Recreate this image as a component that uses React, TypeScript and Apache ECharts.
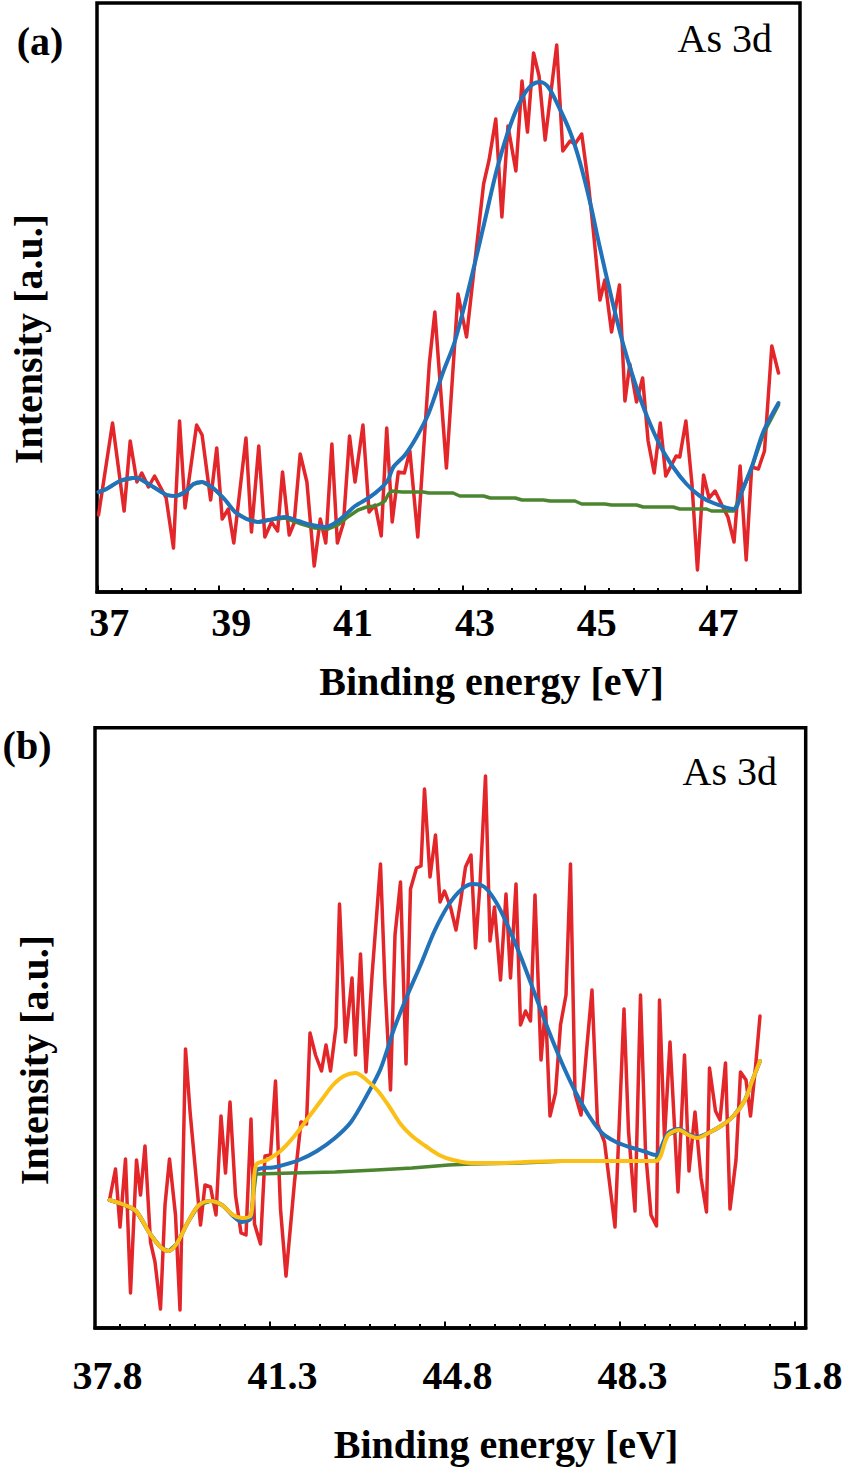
import React, { useEffect, useRef } from 'react';
import * as echarts from 'echarts';

// ---------- Panel (a): As 3d ----------
const redA: [number, number][] = [
  [36.82, 77], [37.05, 169], [37.24, 81], [37.34, 151], [37.45, 110], [37.53, 119], [37.64, 105], [37.74, 116],
  [37.93, 94], [38.05, 44], [38.15, 171], [38.24, 84], [38.43, 167], [38.52, 157], [38.66, 92], [38.76, 144],
  [38.85, 73], [38.95, 83], [39.04, 49], [39.24, 154], [39.33, 60], [39.45, 146], [39.55, 55], [39.66, 70],
  [39.76, 61], [39.84, 120], [39.95, 57], [40.03, 69], [40.13, 138], [40.24, 110], [40.36, 26], [40.46, 73],
  [40.55, 49], [40.65, 148], [40.74, 49], [40.84, 69], [40.94, 156], [41.03, 110], [41.16, 167], [41.26, 80],
  [41.36, 87], [41.46, 56], [41.55, 164], [41.64, 70], [41.74, 120], [41.84, 119], [41.93, 141], [42.06, 55],
  [42.25, 229], [42.34, 280], [42.53, 124], [42.72, 298], [42.86, 255], [43.14, 408], [43.23, 432], [43.34, 473],
  [43.44, 375], [43.54, 466], [43.67, 421], [43.77, 511], [43.86, 460], [43.96, 539], [44.05, 516], [44.15, 452],
  [44.34, 547], [44.44, 441], [44.56, 451], [44.64, 448], [44.75, 458], [44.86, 408], [44.94, 362], [45.05, 292],
  [45.13, 312], [45.24, 260], [45.37, 307], [45.46, 191], [45.54, 228], [45.65, 190], [45.75, 214], [45.84, 151],
  [45.94, 119], [46.04, 169], [46.13, 116], [46.30, 136], [46.36, 135], [46.46, 171], [46.56, 108], [46.65, 22],
  [46.75, 117], [46.84, 94], [46.94, 101], [47.05, 87], [47.15, 75], [47.25, 50], [47.35, 126], [47.45, 32],
  [47.54, 125], [47.65, 123], [47.75, 141], [47.87, 246], [47.98, 219],
];

const fitA: [number, number][] = [
  [36.82, 100], [36.95, 103], [37.17, 111], [37.39, 114], [37.50, 113], [37.72, 105], [37.94, 97], [38.08, 96],
  [38.24, 100], [38.38, 108], [38.52, 110], [38.70, 104], [38.90, 92], [39.06, 80], [39.25, 73], [39.44, 70],
  [39.61, 72], [39.88, 75], [40.10, 71], [40.32, 67], [40.54, 65], [40.70, 69], [40.87, 77], [41.03, 86],
  [41.25, 94], [41.44, 103], [41.57, 112], [41.66, 125], [41.85, 137], [42.04, 155], [42.24, 179], [42.47, 219],
  [42.67, 251], [42.91, 307], [43.14, 366], [43.36, 423], [43.58, 467], [43.77, 494], [43.93, 507], [44.07, 510],
  [44.20, 505], [44.36, 487], [44.56, 460], [44.72, 430], [44.89, 389], [45.05, 344], [45.24, 294], [45.43, 248],
  [45.63, 208], [45.82, 176], [46.04, 146], [46.25, 125], [46.47, 108], [46.69, 96], [46.91, 89], [47.25, 83],
  [47.38, 101], [47.54, 125], [47.73, 160], [47.98, 189],
];

const backgroundA: [number, number][] = [
  [36.82, 100], [36.95, 103], [37.17, 111], [37.39, 114], [37.50, 113], [37.72, 105], [37.94, 97], [38.08, 96],
  [38.24, 100], [38.38, 108], [38.52, 110], [38.70, 104], [38.90, 92], [39.06, 80], [39.25, 73], [39.44, 70],
  [39.61, 72], [39.88, 74], [40.15, 68], [40.37, 64], [40.59, 63], [40.75, 67], [40.91, 75], [41.08, 82],
  [41.22, 85], [41.36, 86], [41.44, 88], [41.52, 91], [41.58, 98], [41.63, 101], [41.80, 100], [42.15, 100],
  [42.24, 99], [42.64, 99], [42.75, 96], [43.14, 96], [43.25, 94], [43.66, 94], [43.77, 92], [44.12, 92],
  [44.23, 91], [44.64, 91], [44.75, 88], [45.13, 88], [45.24, 87], [45.65, 87], [45.76, 85], [46.25, 85],
  [46.36, 83], [46.80, 83], [46.88, 81], [47.25, 81], [47.38, 100], [47.54, 124], [47.73, 158], [47.98, 187],
];

const labelsA = ['37', '39', '41', '43', '45', '47'];
const majorTicksA = [36.8, 38.8, 40.8, 42.8, 44.8, 46.8];
const minorTicksA = [37.2, 37.6, 38.0, 38.4, 39.2, 39.6, 40.0, 40.4, 41.2, 41.6, 42.0, 42.4, 43.2, 43.6, 44.0, 44.4,
  45.2, 45.6, 46.0, 46.4, 47.2, 47.6, 48.0];

// ---------- Panel (b): As 3d ----------
const redB: [number, number][] = [
  [37.83, 128], [37.95, 159], [38.04, 101], [38.15, 169], [38.25, 35], [38.37, 168], [38.45, 133], [38.54, 182],
  [38.65, 86], [38.74, 66], [38.85, 19], [38.94, 123], [39.03, 169], [39.15, 113], [39.24, 18], [39.35, 279],
  [39.44, 217], [39.55, 157], [39.65, 103], [39.74, 143], [39.85, 141], [39.96, 113], [40.06, 212], [40.15, 155],
  [40.24, 226], [40.35, 133], [40.46, 95], [40.56, 93], [40.66, 209], [40.73, 104], [40.85, 84], [40.94, 172],
  [41.05, 173], [41.15, 247], [41.25, 119], [41.36, 52], [41.53, 146], [41.66, 206], [41.77, 204], [41.84, 295],
  [41.95, 273], [42.07, 257], [42.16, 283], [42.25, 257], [42.36, 301], [42.43, 424], [42.55, 286], [42.68, 350],
  [42.75, 273], [42.85, 374], [42.96, 256], [43.08, 352], [43.25, 464], [43.34, 343], [43.45, 238], [43.54, 393],
  [43.65, 446], [43.76, 264], [43.85, 439], [43.97, 460], [44.06, 462], [44.13, 539], [44.24, 451], [44.35, 493],
  [44.44, 426], [44.53, 437], [44.65, 421], [44.76, 398], [44.85, 426], [44.95, 461], [45.06, 473], [45.15, 380],
  [45.24, 444], [45.35, 552], [45.44, 387], [45.53, 421], [45.65, 348], [45.76, 434], [45.85, 350], [45.96, 444],
  [46.05, 303], [46.15, 317], [46.25, 307], [46.34, 433], [46.46, 268], [46.55, 321], [46.64, 212], [46.75, 235],
  [46.85, 303], [46.96, 333], [47.05, 464], [47.14, 234], [47.26, 213], [47.37, 277], [47.48, 338], [47.59, 204],
  [47.73, 186], [47.94, 101], [48.12, 319], [48.21, 197], [48.34, 117], [48.45, 333], [48.55, 177], [48.66, 113],
  [48.77, 102], [48.83, 328], [48.93, 190], [49.04, 286], [49.20, 136], [49.33, 273], [49.42, 157], [49.54, 216],
  [49.66, 150], [49.77, 116], [49.83, 260], [49.95, 217], [50.04, 208], [50.15, 265], [50.24, 119], [50.36, 168],
  [50.45, 256], [50.56, 248], [50.65, 212], [50.75, 261], [50.84, 312],
];

const fitB1: [number, number][] = [
  [37.83, 128], [38.08, 124], [38.36, 117], [38.63, 95], [38.85, 81], [39.01, 77], [39.17, 84], [39.40, 106],
  [39.62, 123], [39.85, 127], [40.08, 123], [40.30, 112], [40.48, 106], [40.66, 110], [40.76, 157], [41.16, 161],
  [41.62, 168], [41.98, 177], [42.34, 190], [42.66, 206], [42.97, 232], [43.25, 259], [43.52, 299], [43.79, 333],
  [44.06, 364], [44.33, 397], [44.61, 423], [44.88, 439], [45.10, 444], [45.33, 441], [45.56, 426], [45.78, 404],
  [46.05, 372], [46.33, 335], [46.60, 299], [46.87, 266], [47.14, 237], [47.41, 213], [47.68, 195], [47.96, 186],
  [48.23, 181], [48.50, 177], [48.75, 173], [49.00, 195], [49.22, 199], [49.41, 194], [49.59, 191], [49.81, 195],
  [50.09, 203], [50.31, 212], [50.54, 228], [50.69, 248], [50.84, 267],
];

const fitB2: [number, number][] = [
  [37.83, 128], [38.08, 124], [38.36, 117], [38.63, 95], [38.85, 81], [39.01, 77], [39.17, 84], [39.40, 106],
  [39.62, 123], [39.85, 127], [40.08, 123], [40.30, 113], [40.48, 110], [40.66, 113], [40.76, 163], [40.98, 168],
  [41.25, 177], [41.53, 192], [41.80, 210], [42.07, 228], [42.30, 243], [42.52, 252], [42.75, 255], [42.97, 248],
  [43.20, 237], [43.43, 221], [43.65, 204], [43.88, 192], [44.15, 182], [44.42, 173], [44.70, 168], [45.06, 165],
  [45.69, 165], [46.14, 166], [46.96, 167], [47.50, 167], [48.75, 167], [49.00, 193], [49.22, 198], [49.41, 193],
  [49.59, 190], [49.81, 195], [50.09, 203], [50.31, 212], [50.54, 228], [50.69, 248], [50.84, 267],
];

const backgroundB: [number, number][] = [
  [37.83, 128], [38.08, 124], [38.36, 117], [38.63, 95], [38.85, 81], [39.01, 77], [39.17, 84], [39.40, 106],
  [39.62, 123], [39.85, 127], [40.08, 123], [40.30, 113], [40.48, 108], [40.66, 112], [40.76, 154], [41.50, 155],
  [42.34, 156], [43.16, 158], [43.88, 160], [44.61, 163], [45.06, 164], [46.05, 165], [46.96, 167], [48.75, 167],
  [49.00, 193], [49.22, 198], [49.41, 193], [49.59, 190], [49.81, 195], [50.09, 203], [50.31, 212], [50.54, 228],
  [50.69, 248], [50.84, 267],
];

const labelsB = ['37.8', '41.3', '44.8', '48.3', '51.8'];
const majorTicksB = [37.54, 41.04, 44.54, 48.04, 51.54];
const minorTicksB = [38.04, 38.54, 39.04, 39.54, 40.04, 40.54, 41.54, 42.04, 42.54, 43.04, 43.54, 44.04, 45.04, 45.54,
  46.04, 46.54, 47.04, 47.54, 48.54, 49.04, 49.54, 50.04, 50.54, 51.04];

const RED = '#E3262A';
const BLUE = '#2272B9';
const GREEN = '#4B8530';
const YELLOW = '#FBBF16';
const SERIF = '"Liberation Serif", "Times New Roman", serif';

function nearestLabel(ticks: number[], labels: string[], v: number): string {
  let best = 0;
  for (let i = 1; i < ticks.length; i++) {
    if (Math.abs(ticks[i] - v) < Math.abs(ticks[best] - v)) best = i;
  }
  return labels[best];
}

function makeXAxes(gridIndex: number, min: number, max: number, majors: number[], minors: number[],
  labels: string[], margin: number, pad: number) {
  return [
    {
      type: 'value', gridIndex, min, max, position: 'bottom', offset: 0,
      axisLine: { show: true, onZero: false, lineStyle: { color: '#000', width: 3.5 } },
      axisTick: { show: true, inside: true, length: 6.5, customValues: majors, lineStyle: { color: '#000', width: 2 } },
      axisLabel: {
        show: true, customValues: majors, margin, color: '#000', fontFamily: SERIF, fontWeight: 'bold', fontSize: 40,
        padding: [0, 0, 0, pad], showMinLabel: true, showMaxLabel: true,
        formatter: (v: number) => nearestLabel(majors, labels, v),
      },
      splitLine: { show: false },
    },
    {
      type: 'value', gridIndex, min, max, position: 'bottom', offset: 0,
      axisLine: { show: false },
      axisTick: { show: true, inside: true, length: 4, customValues: minors, lineStyle: { color: '#000', width: 2 } },
      axisLabel: { show: false },
      splitLine: { show: false },
    },
  ];
}

function line(data: [number, number][], color: string, axis: number, z: number, smooth: number | boolean, width: number) {
  return {
    type: 'line', data, xAxisIndex: axis * 2, yAxisIndex: axis, symbol: 'none', showSymbol: false, smooth,
    silent: true, z, itemStyle: { color },
    lineStyle: { color, width, join: 'round', cap: 'round' },
  };
}

export default function App() {
  const ref = useRef<HTMLDivElement>(null);
  useEffect(() => {
    if (!ref.current) return;
    const chart = echarts.init(ref.current, undefined, { renderer: 'svg' });
    const gridBase = { show: true, borderColor: '#000', borderWidth: 3.5, backgroundColor: 'transparent', containLabel: false, outerBoundsMode: 'none' };
    const bold40 = `bold 40px ${SERIF}`;
    const reg40 = `40px ${SERIF}`;
    const txt = (text: string, x: number, y: number, font: string, align: string, rot = 0) => ({
      type: 'text', x, y, rotation: rot, silent: true,
      style: { text, font, fill: '#000', align, verticalAlign: 'middle' },
    });
    chart.setOption({
      animation: false,
      backgroundColor: '#fff',
      grid: [
        { ...gridBase, left: 97, top: 3, width: 703, height: 589 },
        { ...gridBase, left: 95, top: 727.7, width: 710.7, height: 600.3 },
      ],
      xAxis: [
        ...makeXAxes(0, 36.795, 48.333, majorTicksA, minorTicksA, labelsA, 10, 24),
        ...makeXAxes(1, 37.54, 51.754, majorTicksB, minorTicksB, labelsB, 27, 25),
      ],
      yAxis: [
        { type: 'value', gridIndex: 0, min: 0, max: 589, show: false, splitLine: { show: false } },
        { type: 'value', gridIndex: 1, min: 0, max: 600.3, show: false, splitLine: { show: false } },
      ],
      graphic: [
        txt('(a)', 40, 41, bold40, 'center'),
        txt('As 3d', 772, 38.5, reg40, 'right'),
        txt('Binding energy [eV]', 491.5, 681.5, bold40, 'center'),
        txt('Intensity [a.u.]', 28, 339, bold40, 'center', Math.PI / 2),
        txt('(b)', 27, 745, bold40, 'center'),
        txt('As 3d', 777, 771, reg40, 'right'),
        txt('Binding energy [eV]', 506, 1444, bold40, 'center'),
        txt('Intensity [a.u.]', 34, 1060, bold40, 'center', Math.PI / 2),
      ],
      series: [
        line(redA, RED, 0, 2, false, 3.5),
        line(backgroundA, GREEN, 0, 3, false, 3.5),
        line(fitA, BLUE, 0, 4, 0.3, 4),
        line(redB, RED, 1, 2, false, 3.5),
        line(backgroundB, GREEN, 1, 3, false, 3.5),
        line(fitB1, BLUE, 1, 4, 0.3, 4),
        line(fitB2, YELLOW, 1, 5, 0.3, 4),
      ],
    });
    return () => chart.dispose();
  }, []);
  return <div ref={ref} style={{ position: 'absolute', left: 0, top: 0, width: 845, height: 1469, background: '#fff' }} />;
}
